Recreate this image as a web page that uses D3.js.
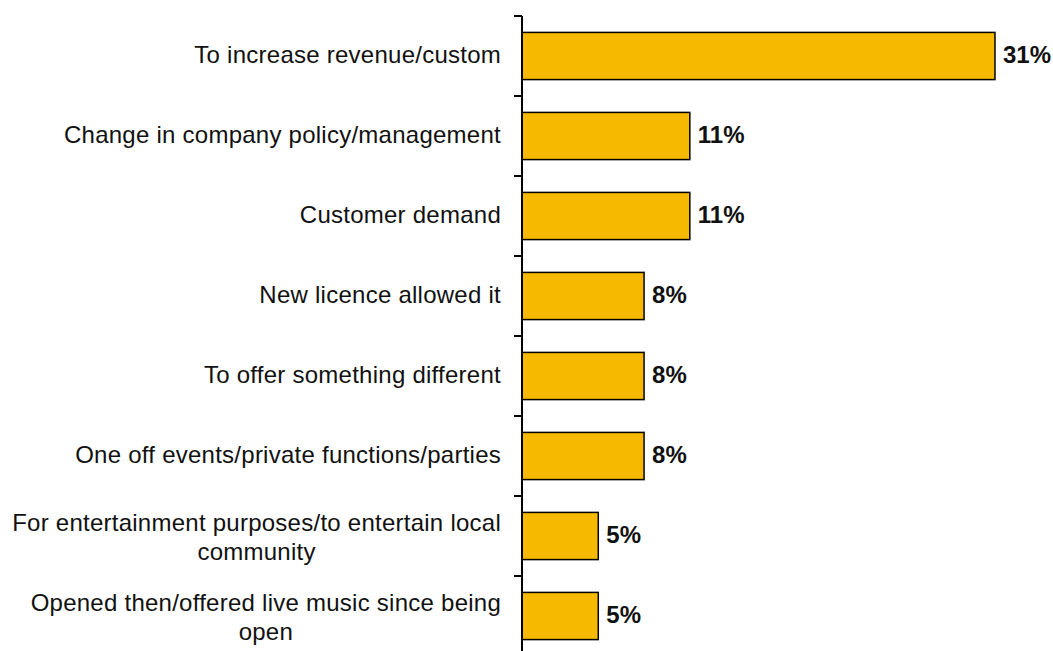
<!DOCTYPE html>
<html>
<head>
<meta charset="utf-8">
<script src="https://cdn.jsdelivr.net/npm/d3@7"></script>
<style>
  html, body { margin: 0; padding: 0; background: #fff; }
  svg { display: block; }
</style>
</head>
<body>
<svg id="chart" width="1053" height="651"></svg>
<script>
// Reasons for offering live music (share of respondents, %)
const categories = [
  "To increase revenue/custom",
  "Change in company policy/management",
  "Customer demand",
  "New licence allowed it",
  "To offer something different",
  "One off events/private functions/parties",
  "For entertainment purposes/to entertain local community",
  "Opened then/offered live music since being open"
];
const values = [31, 11, 11, 8, 8, 8, 5, 5];
// Label line breaks for the long categories
const labelLines = [
  ["To increase revenue/custom"],
  ["Change in company policy/management"],
  ["Customer demand"],
  ["New licence allowed it"],
  ["To offer something different"],
  ["One off events/private functions/parties"],
  ["For entertainment purposes/to entertain local", "community"],
  ["Opened then/offered live music since being", "open"]
];

const svg = d3.select("#chart");
const axisX = 522;
const plotTop = 16, bandH = 80;
const fontFamily = "Liberation Sans, Arial, sans-serif";
const fontSize = 24;
const lineH = 29;

const x = d3.scaleLinear().domain([0, 35]).range([axisX, axisX + 534]);
const y = d3.scaleBand()
  .domain(categories)
  .range([plotTop, plotTop + bandH * categories.length])
  .paddingInner(0.41)
  .paddingOuter(0.205);

// Bars
svg.append("g").selectAll("rect")
  .data(values)
  .join("rect")
  .attr("x", x(0))
  .attr("y", (d, i) => y(categories[i]))
  .attr("width", d => x(d) - x(0))
  .attr("height", y.bandwidth())
  .attr("fill", "#F7B800")
  .attr("stroke", "#000")
  .attr("stroke-width", 1.5);

// Category axis: line plus ticks at band boundaries
const axisG = svg.append("g");
axisG.append("line")
  .attr("x1", axisX).attr("x2", axisX)
  .attr("y1", plotTop).attr("y2", plotTop + bandH * categories.length)
  .attr("stroke", "#000").attr("stroke-width", 2);
axisG.selectAll("line.tick")
  .data(d3.range(categories.length + 1))
  .join("line")
  .attr("class", "tick")
  .attr("x1", axisX - 8).attr("x2", axisX)
  .attr("y1", i => plotTop + i * bandH).attr("y2", i => plotTop + i * bandH)
  .attr("stroke", "#000").attr("stroke-width", 2);

// Category labels: lines centred on each other, block right-aligned to the axis
const labelG = svg.append("g")
  .attr("font-family", fontFamily)
  .attr("font-size", fontSize)
  .attr("letter-spacing", 0.25)
  .attr("fill", "#111");
categories.forEach((c, i) => {
  const lines = labelLines[i];
  const n = lines.length;
  const cy = y(c) + y.bandwidth() / 2;
  const firstBase = cy + (n > 1 ? 9.5 : 6.5) - (n - 1) / 2 * lineH;
  const t = labelG.append("text").attr("text-anchor", "middle");
  lines.forEach((ln, j) => {
    t.append("tspan")
      .attr("x", 0)
      .attr("y", firstBase + j * lineH)
      .text(ln);
  });
  const w = t.node().getBBox().width;
  t.selectAll("tspan").attr("x", axisX - 21 - w / 2);
});

// Value labels
svg.append("g")
  .attr("font-family", fontFamily)
  .attr("font-size", fontSize)
  .attr("font-weight", "bold")
  .attr("fill", "#111")
  .selectAll("text")
  .data(values)
  .join("text")
  .attr("x", d => x(d) + 8)
  .attr("y", (d, i) => y(categories[i]) + y.bandwidth() / 2 + 6.5)
  .text(d => d + "%");
</script>
</body>
</html>
